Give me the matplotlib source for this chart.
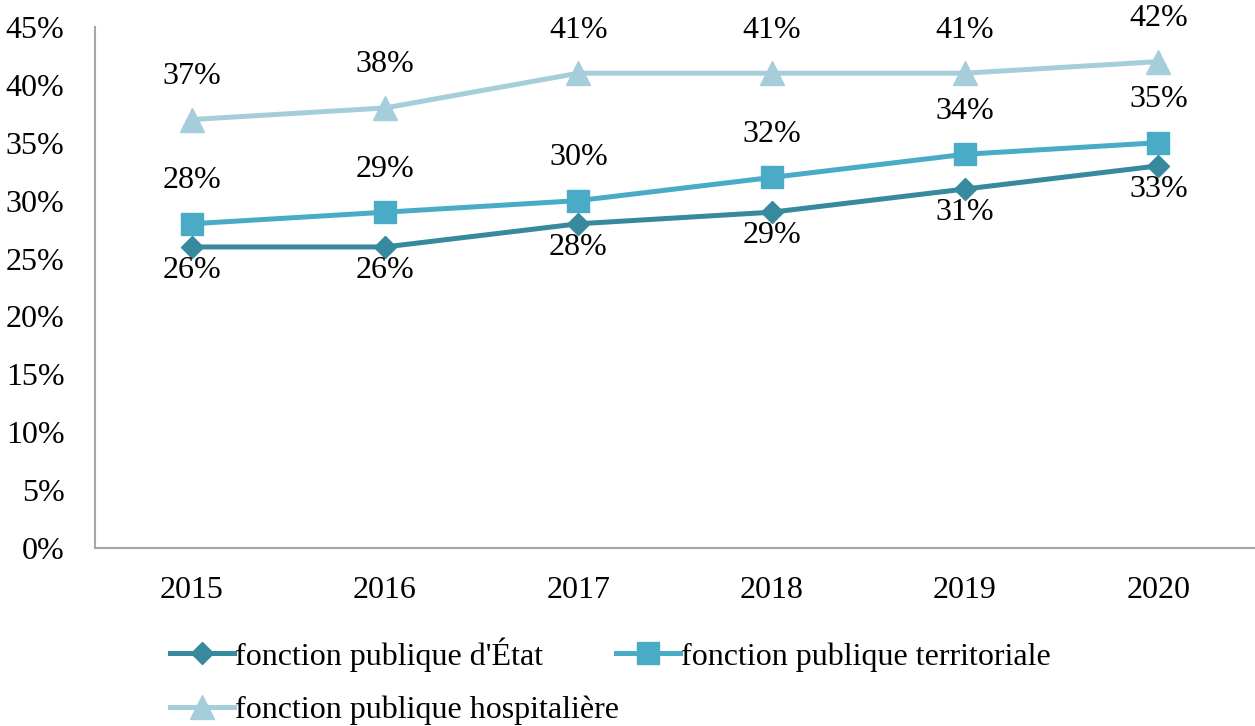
import numpy as np
import matplotlib.pyplot as plt

annees = ['2015', '2016', '2017', '2018', '2019', '2020']
etat = [26, 26, 28, 29, 31, 33]
territoriale = [28, 29, 30, 32, 34, 35]
hospitaliere = [37, 38, 41, 41, 41, 42]
yticks = [0, 5, 10, 15, 20, 25, 30, 35, 40, 45]

plt.rcParams['font.family'] = ['Liberation Serif', 'DejaVu Serif']

fig = plt.figure(figsize=(12.55, 7.26), dpi=100)
ax = fig.add_axes([0.0757, 0.245, 0.9243, 0.718])
x = np.arange(len(annees))

l1, = ax.plot(x, etat, color='#37899E', lw=3.6, marker='D', ms=11, label="fonction publique d'État")
l2, = ax.plot(x, territoriale, color='#4AABC6', lw=3.6, marker='s', ms=16, label='fonction publique territoriale')
l3, = ax.plot(x, hospitaliere, color='#A6CDDA', lw=3.6, marker='^', ms=17, label='fonction publique hospitalière')

fs = 23
for i in x:
    ax.annotate(f'{etat[i]}%', (i, etat[i]), xytext=(0, -17), textcoords='offset points',
                ha='center', va='center', fontsize=fs)
    ax.annotate(f'{territoriale[i]}%', (i, territoriale[i]), xytext=(0, 31), textcoords='offset points',
                ha='center', va='center', fontsize=fs)
    ax.annotate(f'{hospitaliere[i]}%', (i, hospitaliere[i]), xytext=(0, 31), textcoords='offset points',
                ha='center', va='center', fontsize=fs)

ax.set_xlim(-0.5, 5.5)
ax.set_ylim(0, 45)
ax.set_xticks(x)
ax.set_xticklabels(annees)
ax.set_yticks(yticks)
ax.set_yticklabels([f'{v}%' for v in yticks])
ax.tick_params(length=0, labelsize=fs)
ax.tick_params(axis='x', pad=20)
ax.tick_params(axis='y', pad=22)
for s in ['top', 'right']:
    ax.spines[s].set_visible(False)
for s in ['left', 'bottom']:
    ax.spines[s].set_color('#A6A6A6')
    ax.spines[s].set_linewidth(1.5)

fig.legend(handles=[l1, l3, l2], loc='upper left', bbox_to_anchor=(0.125, 0.14), ncol=2,
           frameon=False, fontsize=fs, handlelength=2.0, handletextpad=0.05,
           columnspacing=-0.1, labelspacing=0.75, borderaxespad=0)

fig.savefig('out.png', dpi=100)
